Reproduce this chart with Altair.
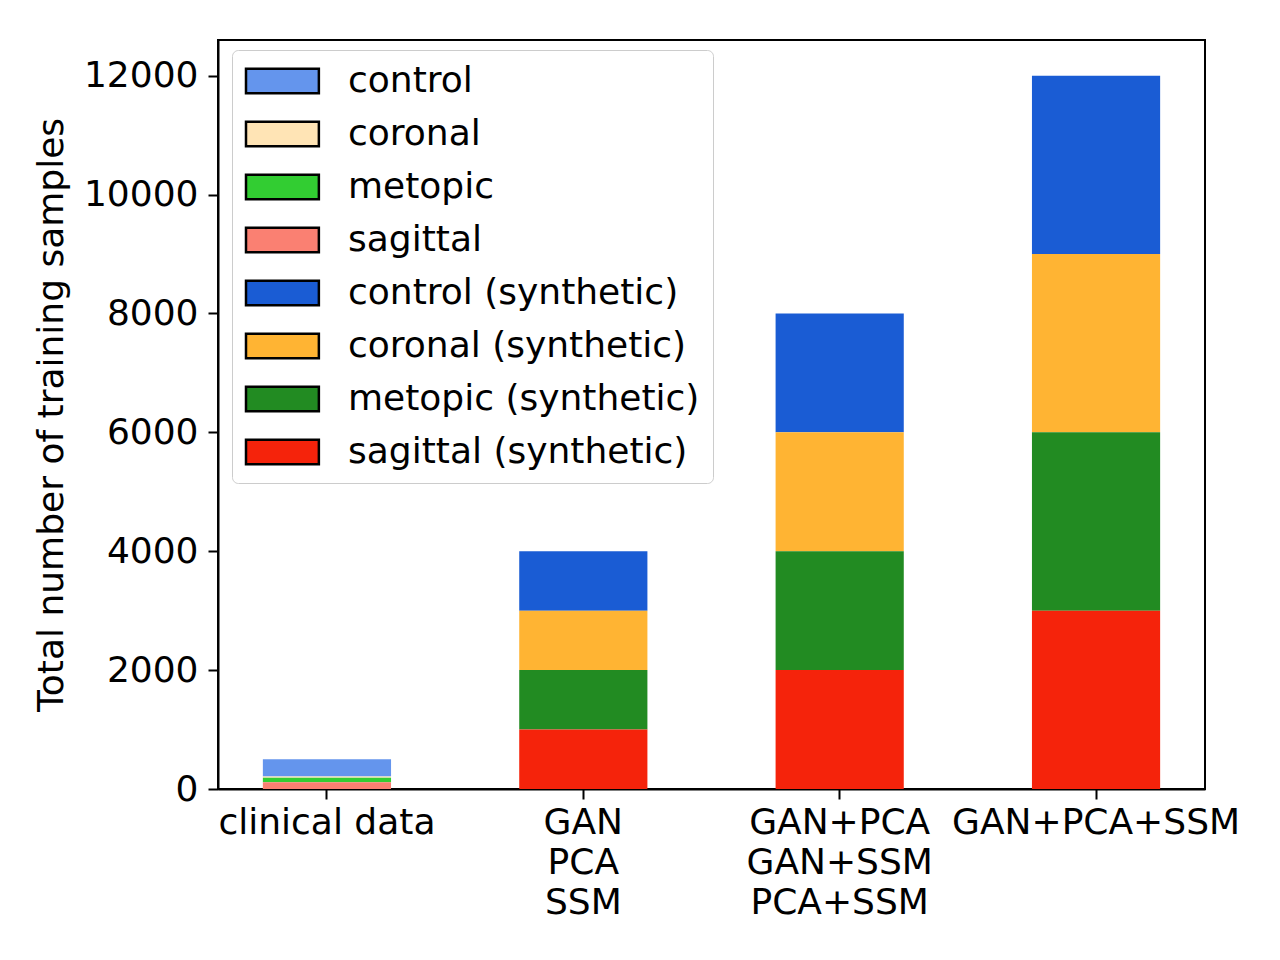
import altair as alt
import pandas as pd

groups = ["clinical data", "GAN\nPCA\nSSM", "GAN+PCA\nGAN+SSM\nPCA+SSM", "GAN+PCA+SSM"]
series = ["control", "coronal", "metopic", "sagittal",
          "control (synthetic)", "coronal (synthetic)", "metopic (synthetic)", "sagittal (synthetic)"]
colors = ["#6495ED", "#FFE4B5", "#32CD32", "#FA8072",
          "#1A5CD4", "#FFB433", "#228B22", "#F5230B"]

# values per series, one per group
control = [290, 0, 0, 0]
coronal = [20, 0, 0, 0]
metopic = [75, 0, 0, 0]
sagittal = [115, 0, 0, 0]
control_syn = [0, 1000, 2000, 3000]
coronal_syn = [0, 1000, 2000, 3000]
metopic_syn = [0, 1000, 2000, 3000]
sagittal_syn = [0, 1000, 2000, 3000]

vals = [control, coronal, metopic, sagittal, control_syn, coronal_syn, metopic_syn, sagittal_syn]
rows = []
for si, (s, v) in enumerate(zip(series, vals)):
    for g, x in zip(groups, v):
        if x > 0:
            rows.append({"group": g, "series": s, "value": x, "ord": 7 - si})
df = pd.DataFrame(rows)

FONT = "DejaVu Sans"
FS = 36

chart = alt.Chart(df).mark_bar().encode(
    x=alt.X("group:N", sort=groups, title=None,
            scale=alt.Scale(paddingInner=0.5, paddingOuter=0.175),
            axis=alt.Axis(labelAngle=0, labelFontSize=FS, labelLineHeight=40,
                          labelExpr="split(datum.value, '\\n')", labelPadding=6,
                          labelBaseline="top", tickSize=10, tickWidth=2, tickColor="black",
                          domainColor="black", domainWidth=2, labelColor="black", labelFont=FONT,
                          labelLimit=1000)),
    y=alt.Y("value:Q", stack="zero", title="Total number of training samples",
            scale=alt.Scale(domain=[0, 12600], nice=False),
            axis=alt.Axis(values=[0, 2000, 4000, 6000, 8000, 10000, 12000], format="d",
                          labelFontSize=FS,
                          tickSize=10, tickWidth=2, tickColor="black", domainColor="black",
                          domainWidth=2, grid=False, labelColor="black", labelFont=FONT,
                          titleFontSize=FS, titleFontWeight="normal", titleFont=FONT,
                          titleColor="black", titlePadding=13, labelPadding=10)),
    color=alt.Color("series:N", sort=series,
                    scale=alt.Scale(domain=series, range=colors),
                    legend=alt.Legend(title=None, orient="none", legendX=14, legendY=10,
                                      symbolType="M-1.4,-1H4.6V1H-1.4Z", symbolSize=590,
                                      symbolStrokeColor="black", symbolStrokeWidth=2.5,
                                      symbolOpacity=1, labelFontSize=FS, labelFont=FONT,
                                      labelColor="black", labelOffset=67, rowPadding=17,
                                      padding=13, fillColor="white", strokeColor="#cccccc",
                                      cornerRadius=6, labelLimit=600)),
    order=alt.Order("ord:Q", sort="ascending"),
).properties(
    width=987, height=749,
    autosize=alt.AutoSizeParams(type="none"),
    padding={"left": 210, "top": 32, "right": 67, "bottom": 163},
).configure_view(stroke="black", strokeWidth=2)

chart.save("out.html", embed_options={"renderer": "svg", "actions": False})
